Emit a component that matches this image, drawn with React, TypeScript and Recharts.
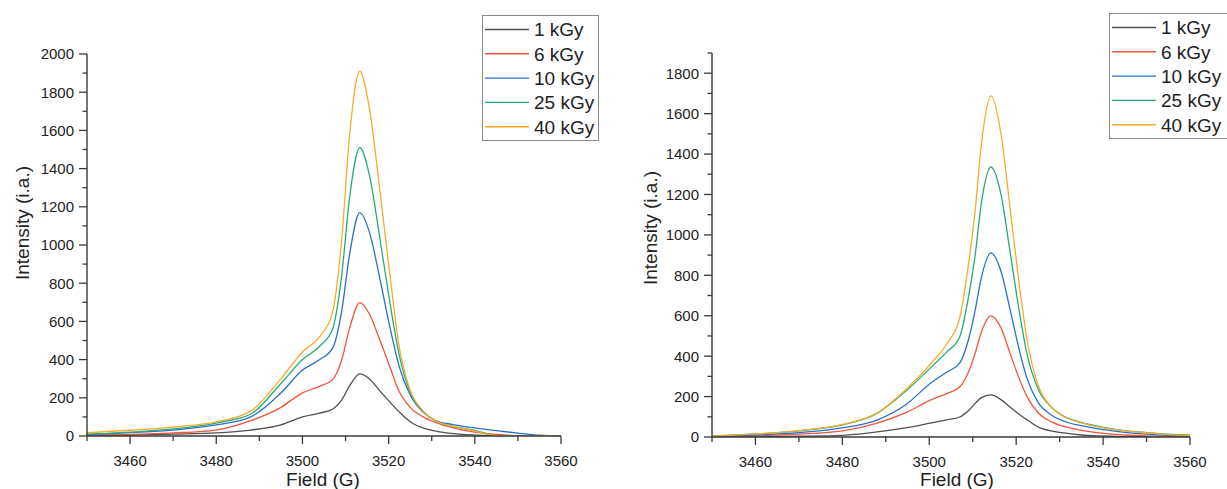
import React from 'react';
import { LineChart, Line, XAxis, YAxis, Legend } from 'recharts';

// ---------- data ----------
const seriesNames = ['1 kGy', '6 kGy', '10 kGy', '25 kGy', '40 kGy'];
const seriesKeys = ['g1', 'g6', 'g10', 'g25', 'g40'];
const seriesColors = ['#505050', '#f0543c', '#2b6fca', '#23ad76', '#f9aa2c'];

const xMajorTicks = [3460, 3480, 3500, 3520, 3540, 3560];
const xMinorTicks = [3450, 3470, 3490, 3510, 3530, 3550];
const leftYMajorTicks = [0, 200, 400, 600, 800, 1000, 1200, 1400, 1600, 1800, 2000];
const leftYMinorTicks = [100, 300, 500, 700, 900, 1100, 1300, 1500, 1700, 1900];
const rightYMajorTicks = [0, 200, 400, 600, 800, 1000, 1200, 1400, 1600, 1800];
const rightYMinorTicks = [100, 300, 500, 700, 900, 1100, 1300, 1500, 1700, 1900];

// left panel
const leftField = [3450, 3460, 3470, 3480, 3488, 3495, 3500, 3504, 3507, 3509, 3511, 3513.3, 3515.5, 3518, 3520, 3522.5, 3525, 3528, 3531, 3535, 3540, 3545, 3550, 3555, 3560];
const left1 = [2, 5, 10, 16, 31, 58, 100, 120, 140, 185, 265, 325, 300, 235, 185, 125, 75, 42, 25, 12, 5, 2, 0, 0, 0];
const left6 = [4, 8, 16, 31, 80, 150, 226, 260, 295, 390, 570, 698, 640, 500, 380, 230, 150, 100, 70, 42, 20, 8, 1, 0, 0];
const left10 = [8, 18, 31, 58, 100, 225, 345, 400, 460, 640, 960, 1170, 1070, 820, 600, 360, 215, 125, 80, 60, 42, 28, 15, 4, 0];
const left25 = [8, 20, 37, 68, 115, 275, 400, 470, 560, 820, 1260, 1510, 1370, 1030, 740, 420, 230, 130, 76, 50, 30, 2, 0, 0, 0];
const left40 = [18, 30, 47, 74, 130, 300, 440, 520, 650, 1000, 1590, 1910, 1720, 1280, 900, 460, 240, 130, 78, 50, 26, 2, 0, 0, 0];

// right panel
const rightField = [3450, 3460, 3470, 3480, 3488, 3494.5, 3500.5, 3504, 3507, 3509, 3510.5, 3512, 3514.2, 3516.5, 3518.5, 3520.5, 3522.5, 3525, 3528, 3531, 3535, 3540, 3545, 3550, 3555, 3560];
const right1 = [1, 2, 4, 8, 25, 45, 70, 85, 99, 130, 165, 195, 208, 185, 150, 115, 85, 50, 30, 20, 10, 5, 2, 1, 0, 0];
const right6 = [2, 6, 14, 30, 69, 119, 185, 215, 247, 320, 410, 520, 599, 540, 420, 300, 200, 121, 76, 52, 33, 18, 10, 5, 3, 2];
const right10 = [3, 10, 22, 45, 84, 158, 270, 320, 366, 480, 620, 790, 911, 820, 640, 450, 290, 173, 110, 78, 56, 36, 23, 14, 8, 5];
const right25 = [5, 15, 30, 60, 117, 225, 347, 420, 495, 690, 890, 1160, 1336, 1200, 930, 650, 410, 240, 150, 102, 72, 48, 32, 22, 14, 10];
const right40 = [5, 15, 32, 62, 119, 233, 366, 460, 589, 850, 1109, 1450, 1688, 1500, 1150, 790, 480, 260, 150, 100, 70, 45, 30, 20, 12, 8];

const buildTable = (field: number[], cols: number[][]) =>
  field.map((f, i) => {
    const row: Record<string, number> = { field: f };
    seriesKeys.forEach((k, j) => {
      row[k] = cols[j][i];
    });
    return row;
  });

const leftData = buildTable(leftField, [left1, left6, left10, left25, left40]);
const rightData = buildTable(rightField, [right1, right6, right10, right25, right40]);

// ---------- styling ----------
const FONT = '"Liberation Sans", Arial, sans-serif';
const AXIS = '#3a3a3a';
const TEXT = '#222';

const sortNum = (a: number[]) => [...a].sort((p, q) => p - q);

const makeYTick = (majors: number[]) => (props: any) => {
  const { x, y, payload } = props;
  const v = payload.value;
  const major = majors.includes(v);
  return (
    <g>
      <line x1={x} x2={x - (major ? 8 : 4.5)} y1={y} y2={y} stroke={AXIS} strokeWidth={1.3} />
      {major && (
        <text x={x - 13} y={y} dy="0.36em" textAnchor="end" fontSize={15} fontFamily={FONT} fill={TEXT}>
          {v}
        </text>
      )}
    </g>
  );
};

const XTick = (props: any) => {
  const { x, y, payload } = props;
  const v = payload.value;
  const major = xMajorTicks.includes(v);
  return (
    <g>
      <line x1={x} x2={x} y1={y} y2={y + (major ? 8 : 5)} stroke={AXIS} strokeWidth={1.3} />
      {major && (
        <text x={x} y={y + 30} textAnchor="middle" fontSize={15} fontFamily={FONT} fill={TEXT}>
          {v}
        </text>
      )}
    </g>
  );
};

const makeLegend = (boxW: number) => (props: any) => {
  const payload = [...(props.payload || [])].sort(
    (a: any, b: any) => seriesNames.indexOf(a.value) - seriesNames.indexOf(b.value)
  );
  return (
    <svg width={boxW + 2} height={128} style={{ display: 'block', overflow: 'visible' }}>
      <rect x={0.5} y={0.5} width={boxW} height={125} fill="#fff" stroke="#8a8a8a" strokeWidth={1} />
      {payload.map((p: any, i: number) => {
        const yy = 14.5 + i * 24.3;
        return (
          <g key={p.value}>
            <line x1={3} x2={47} y1={yy} y2={yy} stroke={p.color} strokeWidth={1.4} />
            <text x={52} y={yy} dy="0.36em" fontSize={19} fontFamily={FONT} fill={TEXT}>
              {p.value}
            </text>
          </g>
        );
      })}
    </svg>
  );
};

type PanelProps = {
  data: any[];
  width: number;
  margin: { top: number; right: number; bottom: number; left: number };
  yMax: number;
  yMajors: number[];
  yMinors: number[];
  yTitlePos: [number, number];
  xTitlePos: [number, number];
  legendPos: [number, number];
  legendW: number;
};

const Panel = (p: PanelProps) => (
  <LineChart width={p.width} height={489} data={p.data} margin={p.margin}>
    <XAxis
      dataKey="field"
      type="number"
      domain={[3450, 3560]}
      ticks={sortNum([...xMajorTicks, ...xMinorTicks])}
      interval={0}
      tickSize={0}
      tickMargin={0}
      tickLine={false}
      height={30}
      axisLine={{ stroke: AXIS, strokeWidth: 1.4 }}
      tick={XTick}
      allowDataOverflow
      label={() => (
        <text
          x={p.xTitlePos[0]}
          y={p.xTitlePos[1]}
          textAnchor="middle"
          fontSize={19}
          fontFamily={FONT}
          fill={TEXT}
        >
          Field (G)
        </text>
      )}
    />
    <YAxis
      type="number"
      domain={[0, p.yMax]}
      ticks={sortNum([...p.yMajors, ...p.yMinors])}
      interval={0}
      tickSize={0}
      tickMargin={0}
      tickLine={false}
      width={60}
      axisLine={{ stroke: AXIS, strokeWidth: 1.4 }}
      tick={makeYTick(p.yMajors)}
      allowDataOverflow
      label={() => (
        <text
          x={p.yTitlePos[0]}
          y={p.yTitlePos[1]}
          transform={`rotate(-90 ${p.yTitlePos[0]} ${p.yTitlePos[1]})`}
          textAnchor="middle"
          dominantBaseline="central"
          fontSize={19}
          fontFamily={FONT}
          fill={TEXT}
        >
          Intensity (i.a.)
        </text>
      )}
    />
    <Legend
      layout="horizontal"
      verticalAlign="middle"
      align="center"
      content={makeLegend(p.legendW)}
      wrapperStyle={{ position: 'absolute', left: p.legendPos[0], top: p.legendPos[1], width: 'auto', height: 'auto' }}
    />
    {seriesKeys.map((k, i) => (
      <Line
        key={k}
        dataKey={k}
        name={seriesNames[i]}
        stroke={seriesColors[i]}
        strokeWidth={1.3}
        type="monotone"
        dot={false}
        activeDot={false}
        isAnimationActive={false}
      />
    ))}
  </LineChart>
);

export default function App() {
  return (
    <div
      style={{
        position: 'fixed',
        left: 0,
        top: 0,
        width: 1227,
        height: 489,
        overflow: 'hidden',
        background: '#fff',
      }}
    >
      <div style={{ position: 'absolute', left: 0, top: 0 }}>
        <Panel
          data={leftData}
          width={620}
          margin={{ top: 54, right: 59, bottom: 23, left: 27 }}
          yMax={2000}
          yMajors={leftYMajorTicks}
          yMinors={leftYMinorTicks}
          yTitlePos={[22, 223]}
          xTitlePos={[323, 486]}
          legendPos={[482, 15]}
          legendW={116}
        />
      </div>
      <div style={{ position: 'absolute', left: 612, top: 0 }}>
        <Panel
          data={rightData}
          width={615}
          margin={{ top: 53, right: 37, bottom: 22, left: 40 }}
          yMax={1900}
          yMajors={rightYMajorTicks}
          yMinors={rightYMinorTicks}
          yTitlePos={[38, 228]}
          xTitlePos={[345, 486]}
          legendPos={[497, 13]}
          legendW={122}
        />
      </div>
    </div>
  );
}
